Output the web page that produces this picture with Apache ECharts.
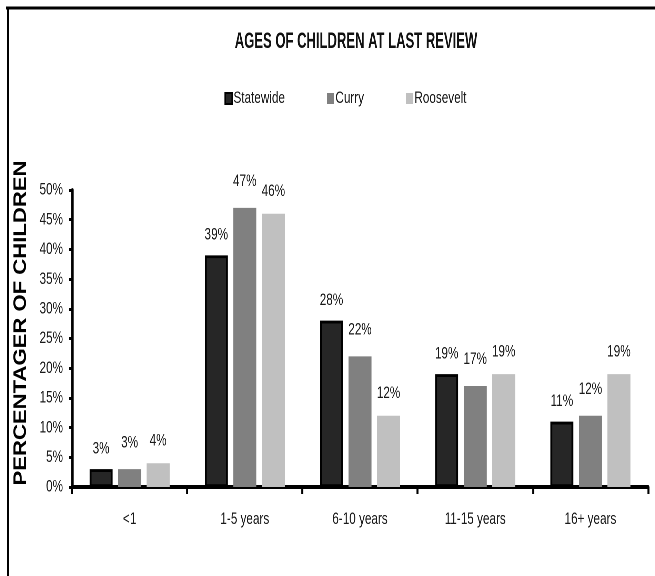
<!DOCTYPE html>
<html>
<head>
<meta charset="utf-8">
<script src="https://cdn.jsdelivr.net/npm/echarts@6/dist/echarts.min.js"></script>
<style>
html,body{margin:0;padding:0;background:#fff;overflow:hidden}
#wrap{width:655px;height:576px;overflow:hidden;position:relative;background:#fff}
#c{width:950px;height:576px;transform:scaleX(0.689474);transform-origin:0 0}
</style>
</head>
<body>
<div id="wrap"><div id="c"></div></div>
<script>
const categories = ['<1', '1-5 years', '6-10 years', '11-15 years', '16+ years'];
const statewide = [3, 39, 28, 19, 11];
const curry = [3, 47, 22, 17, 12];
const roosevelt = [4, 46, 12, 19, 19];
const seriesNames = ['Statewide', 'Curry', 'Roosevelt'];
const titleText = 'AGES OF CHILDREN AT LAST REVIEW';
const yAxisTitle = 'PERCENTAGER OF CHILDREN';

// The page is drawn 950px wide and condensed horizontally to 655px (narrow-font look)
const K = 655 / 950;
const X = (v) => v / K;
const FONT = '"Liberation Sans", Arial, sans-serif';
const chart = echarts.init(document.getElementById('c'), null, {renderer: 'canvas', width: 950, height: 576, devicePixelRatio: 2});
const lbl = (d) => ({show: true, position: 'top', distance: d, formatter: '{c}%', color: '#1a1a1a', fontFamily: FONT, fontSize: 17});
chart.setOption({
  animation: false,
  backgroundColor: '#fff',
  legend: {
    data: seriesNames, left: X(221), top: 85, itemWidth: X(7), itemHeight: 11, itemGap: X(42),
    textStyle: {fontFamily: FONT, fontSize: 17, color: '#1a1a1a', padding: [0, 0, 0, -3]},
    icon: 'rect'
  },
  graphic: [
    {type: 'line', shape: {x1: X(6), y1: 8, x2: 950, y2: 8}, style: {stroke: '#000', lineWidth: 3}},
    {type: 'line', shape: {x1: X(8), y1: 7, x2: X(8), y2: 576}, style: {stroke: '#000', lineWidth: X(2)}},
    {type: 'text', x: X(356), y: 42, scaleX: 0.86,
     style: {text: titleText, font: 'bold 22px "Liberation Sans", Arial, sans-serif', fill: '#111', textAlign: 'center', textVerticalAlign: 'middle'}},
    {type: 'text', x: X(21), y: 323, rotation: Math.PI / 2, scaleX: 0.85,
     style: {text: yAxisTitle, font: 'bold 26px "Liberation Sans", Arial, sans-serif', fill: '#000', textAlign: 'center', textVerticalAlign: 'middle'}}
  ],
  grid: {left: X(72), right: X(7), top: 190, bottom: 89, containLabel: false},
  xAxis: {
    type: 'category', data: categories,
    axisLine: {lineStyle: {color: '#000', width: 4}},
    axisTick: {show: true, length: 7, lineStyle: {color: '#000', width: X(2)}},
    axisLabel: {margin: 24, fontFamily: FONT, fontSize: 17, color: '#1a1a1a'}
  },
  yAxis: {
    type: 'value', min: 0, max: 50, interval: 5,
    axisLine: {show: true, lineStyle: {color: '#000', width: X(2.5)}},
    axisTick: {show: true, length: X(3), lineStyle: {color: '#000', width: 3}},
    axisLabel: {formatter: '{value}%', margin: X(9), fontFamily: FONT, fontSize: 17, color: '#1a1a1a'},
    splitLine: {show: false}
  },
  series: [
    {name: seriesNames[0], type: 'bar', data: statewide, barWidth: X(23), barGap: '24%',
     itemStyle: {color: '#262626', borderColor: '#000', borderWidth: 2.8}, label: lbl(12)},
    {name: seriesNames[1], type: 'bar', data: curry, barWidth: X(23),
     itemStyle: {color: '#808080'}, label: lbl(18)},
    {name: seriesNames[2], type: 'bar', data: roosevelt, barWidth: X(23),
     itemStyle: {color: '#c0c0c0'}, label: lbl(14)}
  ]
});
</script>
</body>
</html>
